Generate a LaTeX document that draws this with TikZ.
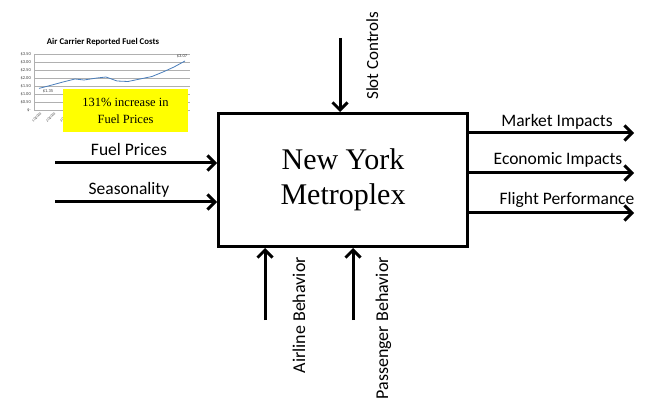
\documentclass[tikz,border=0pt]{standalone}
\usepackage{fontspec}
\setmainfont{Liberation Serif}
\newfontfamily\calibri{Carlito}
\usetikzlibrary{arrows.meta}

\definecolor{chartline}{HTML}{4A7EBB}
\definecolor{gridgray}{HTML}{B0B0B0}
\definecolor{notebox}{HTML}{FFFF00}

\begin{document}
\begin{tikzpicture}[x=1pt, y=-1pt,
    arr/.style={line width=3pt, -{Straight Barb[length=7.5pt, width=15pt]}},
    lbl/.style={font=\calibri\fontsize{17.5}{17.5}\selectfont, inner sep=0pt, anchor=base},
    vlbl/.style={font=\calibri\fontsize{18}{18}\selectfont, inner sep=0pt, rotate=90},
    tick/.style={font=\calibri\fontsize{4.5}{4.5}\selectfont, inner sep=0pt, text=black!75}]
    \useasboundingbox (0,0) rectangle (645,398);

    % fuel cost chart
    \node[font=\calibri\bfseries\fontsize{8.8}{8.8}\selectfont, inner sep=0pt] (title) at (103,42) {Air Carrier Reported Fuel Costs};
    \foreach \v/\t in {0.5/\$0.50, 1/\$1.00, 1.5/\$1.50, 2/\$2.00, 2.5/\$2.50, 3/\$3.00, 3.5/\$3.50} {
        \draw[gridgray, line width=0.6pt] (34,110-16*\v) -- (190,110-16*\v);
        \node[tick, anchor=east] at (31,110-16*\v) {\t};
    }
    \node[tick, anchor=east] (zero) at (31,110) {\$-};
    \draw[gridgray, line width=0.6pt] (34,54) -- (34,110) -- (190,110);
    \foreach \x/\t in {40/1Q2003, 54/2Q2003, 68/3Q2003} {
        \node[tick, font=\calibri\fontsize{3.6}{3.6}\selectfont, rotate=45, anchor=north east] at (\x,112) {\t};
    }
    \draw[chartline, line width=0.8pt] (39,88.4) -- (52,85) -- (63,82) -- (75,79) -- (84,80)
        -- (97,78) -- (106,77) -- (117,81) -- (128,81.5) -- (140,79) -- (152,76.5)
        -- (163,72) -- (174,67) -- (185,61);
    \node[tick] (low) at (48,91.5) {\$1.35};
    \node[tick] (high) at (182,56.5) {\$3.07};

    \node[fill=notebox, minimum width=125pt, minimum height=43pt, inner sep=0pt,
        align=center, font=\fontsize{12.5}{17}\selectfont] (note) at (125.5,110.5)
        {131\% increase in\\Fuel Prices};

    % main box
    \node[draw, line width=3pt, minimum width=249pt, minimum height=133pt,
        align=center, font=\fontsize{30}{35}\selectfont] (nym) at (343,180)
        {New York\\Metroplex};

    % inputs
    \coordinate (fuel) at (55,163);
    \coordinate (season) at (55,202);
    \draw[arr] (fuel) -- (fuel -| nym.west);
    \draw[arr] (season) -- (season -| nym.west);
    \node[lbl] (fuellbl) at (129,156) {Fuel Prices};
    \node[lbl] (seasonlbl) at (129,195) {Seasonality};

    % controls
    \coordinate (slot) at (340,38);
    \draw[arr] (slot) -- (slot |- nym.north);
    \node[vlbl, font=\calibri\fontsize{17}{17}\selectfont, anchor=base west] (slotlbl) at (378,100) {Slot Controls};

    \coordinate (airline) at (265,320);
    \coordinate (pax) at (353,320);
    \draw[arr] (airline) -- (airline |- nym.south);
    \draw[arr] (pax) -- (pax |- nym.south);
    \node[vlbl, anchor=base east] (airlinelbl) at (305,257) {Airline Behavior};
    \node[vlbl, anchor=base east] (paxlbl) at (388,257) {Passenger Behavior};

    % outputs
    \coordinate (market) at (634,133);
    \coordinate (econ) at (634,173);
    \coordinate (flight) at (634,213);
    \draw[arr] (market -| nym.east) -- (market);
    \draw[arr] (econ -| nym.east) -- (econ);
    \draw[arr] (flight -| nym.east) -- (flight);
    \node[lbl] (marketlbl) at (557,127) {Market Impacts};
    \node[lbl] (econlbl) at (558,165) {Economic Impacts};
    \node[lbl] (flightlbl) at (567,205) {Flight Performance};
\end{tikzpicture}
\end{document}
